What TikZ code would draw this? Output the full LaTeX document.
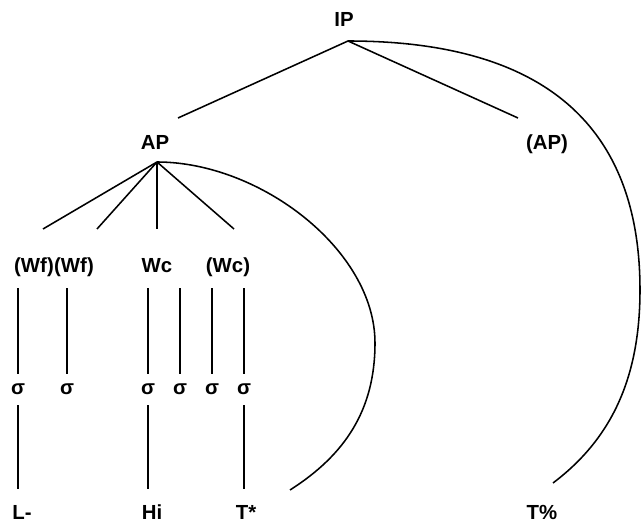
\documentclass[tikz,border=0pt]{standalone}
\usepackage{fontspec}
\setmainfont{Liberation Sans}
\tikzset{
  lbl/.style={anchor=base,font=\fontsize{14.5}{18}\selectfont\bfseries,inner sep=0pt,text height=11pt,text depth=3pt},
  word/.style={lbl,inner ysep=7pt},
  syl/.style={lbl,inner ysep=3.7pt},
  tone/.style={lbl,inner ysep=10.3pt}
}
\begin{document}
\begin{tikzpicture}[x=.025cm,y=-.025cm,line width=1.1pt]
        \useasboundingbox (0,0) rectangle (641,523);
        % phrases
        \node[lbl] (ip) at (344,27) {IP};
        \node[lbl] (ap) at (155,150) {AP};
        \node[lbl] (apopt) at (547,150) {(AP)};
        % words
        \node[word] (wf1) at (34,273) {(Wf)};
        \node[word] (wf2) at (74,273) {(Wf)};
        \node[word] (wc1) at (157,273) {Wc};
        \node[word] (wc2) at (228,273) {(Wc)};
        % syllables
        \foreach \x [count=\i] in {18,67,148,180,212,244}
          \node[syl] (s\i) at (\x,395) {σ};
        % tones
        \node[tone] (lm) at (22,520) {L-};
        \node[tone] (hi) at (152,520) {Hi};
        \node[tone] (ts) at (246,520) {T*};
        \node[tone] (tp) at (542,520) {T\%};
        % branching points
        \coordinate (ipf) at (348,41);
        \coordinate (apf) at (157,162);
        \coordinate (ipl) at (178,118);
        \coordinate (ipr) at (518,118);
        \foreach \x [count=\i] in {43,97,157,234}
          \coordinate (apb\i) at (\x,229);
        \coordinate (tsf) at (290,490);
        \coordinate (tpf) at (553,483);
        % tree
        \draw (ipl) -- (ipf) -- (ipr);
        \foreach \i in {1,...,4} \draw (apf) -- (apb\i);
        \foreach \i in {1,...,6} \draw (s\i.north) -- (s\i.north |- wf1.south);
        \foreach \i/\t in {1/lm,3/hi,6/ts} \draw (s\i.south) -- (s\i.south |- \t.north);
        % arcs
        \draw (apf) .. controls (260,162) and (375,250) .. (375,343)
                    .. controls (375,410) and (345,455) .. (tsf);
        \draw (ipf) .. controls (560,41) and (640,140) .. (640,290)
                    .. controls (640,380) and (610,440) .. (tpf);
\end{tikzpicture}
\end{document}
